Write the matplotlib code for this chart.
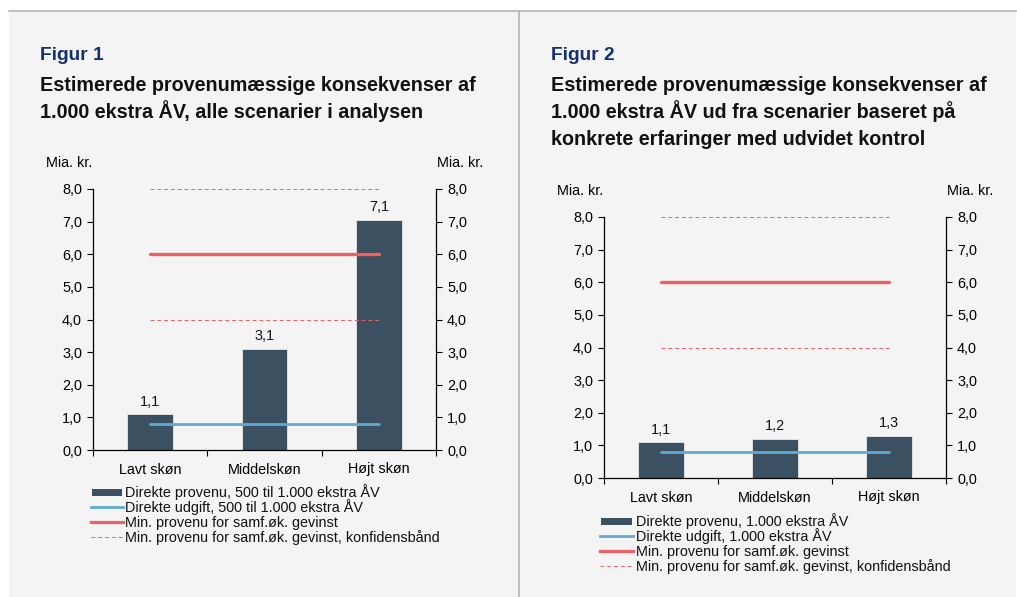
import matplotlib
matplotlib.use("Agg")
import matplotlib.pyplot as plt
from matplotlib.lines import Line2D
from matplotlib.patches import Rectangle
from matplotlib.ticker import FixedLocator, NullFormatter

plt.rcParams['font.family'] = ['Liberation Sans', 'DejaVu Sans']

categories = ["Lavt skøn", "Middelskøn", "Højt skøn"]
fig1_values = [1.1, 3.1, 7.05]
fig2_values = [1.1, 1.2, 1.3]
fig1_labels = ["1,1", "3,1", "7,1"]
fig2_labels = ["1,1", "1,2", "1,3"]
direct_cost = 0.8
min_revenue = 6.0
conf_low = 4.0
conf_high = 8.0
yticks = [0, 1, 2, 3, 4, 5, 6, 7, 8]
ytick_labels = ["0,0", "1,0", "2,0", "3,0", "4,0", "5,0", "6,0", "7,0", "8,0"]

fig1_title = ["Estimerede provenumæssige konsekvenser af",
              "1.000 ekstra ÅV, alle scenarier i analysen"]
fig2_title = ["Estimerede provenumæssige konsekvenser af",
              "1.000 ekstra ÅV ud fra scenarier baseret på",
              "konkrete erfaringer med udvidet kontrol"]
fig1_legend = ["Direkte provenu, 500 til 1.000 ekstra ÅV",
               "Direkte udgift, 500 til 1.000 ekstra ÅV",
               "Min. provenu for samf.øk. gevinst",
               "Min. provenu for samf.øk. gevinst, konfidensbånd"]
fig2_legend = ["Direkte provenu, 1.000 ekstra ÅV",
               "Direkte udgift, 1.000 ekstra ÅV",
               "Min. provenu for samf.øk. gevinst",
               "Min. provenu for samf.øk. gevinst, konfidensbånd"]

W, H = 1017, 597
BG = "#f4f4f4"
BAR = "#3b5060"
BLUE = "#62aad3"
RED = "#ef5f68"
NAVY = "#14306e"
FS = 10.4

fig = plt.figure(figsize=(W / 100, H / 100), dpi=100)
fig.patch.set_facecolor("white")


def fx(px):
    return px / W


def fy(py):
    return 1 - py / H


# panel background and borders
fig.patches.append(Rectangle((fx(9), 0), (W - 10) / W, (H - 11) / H, transform=fig.transFigure,
                             facecolor=BG, edgecolor="none", zorder=-10))
fig.add_artist(Line2D([fx(9), fx(1016)], [fy(11), fy(11)], transform=fig.transFigure,
                      color="#b5b5b5", lw=1.2))
fig.add_artist(Line2D([fx(519), fx(519)], [0, fy(11)], transform=fig.transFigure,
                      color="#b5b5b5", lw=1.2))


def px_axes(left, top, right, bottom):
    return fig.add_axes([fx(left), fy(bottom), (right - left) / W, (bottom - top) / H])


def draw_legend(labels, hx0, hx1, tx, y0, pitch=15):
    t = fig.transFigure
    for i, lab in enumerate(labels):
        yc = y0 + pitch * i
        if i == 0:
            fig.patches.append(Rectangle((fx(hx0), fy(yc + 3.5)), (hx1 - hx0) / W, 7 / H,
                                         transform=t, facecolor=BAR, edgecolor="none"))
        elif i == 1:
            fig.add_artist(Line2D([fx(hx0 - 1), fx(hx1 + 1)], [fy(yc), fy(yc)], transform=t,
                                  color=BLUE, lw=2.0))
        elif i == 2:
            fig.add_artist(Line2D([fx(hx0 - 1), fx(hx1 + 1)], [fy(yc), fy(yc)], transform=t,
                                  color=RED, lw=2.3))
        else:
            fig.add_artist(Line2D([fx(hx0 - 1), fx(hx1 + 1)], [fy(yc), fy(yc)], transform=t,
                                  color=RED, lw=0.7, ls=(0, (4, 3))))
        fig.text(fx(tx), fy(yc + 5), lab, fontsize=FS, ha="left", va="baseline", color="#111111")


def draw_panel(ax, values, labels):
    ax.set_facecolor("none")
    x = list(range(len(categories)))
    ax.bar(x, values, width=0.4, color=BAR, edgecolor="#e8e8e8", linewidth=0.6, zorder=2)
    for xi, v, lab in zip(x, values, labels):
        ax.annotate(lab, (xi, v), xytext=(0, 4), textcoords="offset points",
                    ha="center", va="bottom", fontsize=FS, color="#111111")
    xs = [x[0], x[-1]]
    ax.plot(xs, [direct_cost] * 2, color=BLUE, lw=2.0, zorder=3, solid_capstyle="round")
    ax.plot(xs, [min_revenue] * 2, color=RED, lw=2.4, zorder=3, solid_capstyle="round")
    ax.plot(xs, [conf_low] * 2, color=RED, lw=0.7, ls=(0, (4, 3)), zorder=3)
    ax.plot(xs, [conf_high] * 2, color=RED, lw=0.7, ls=(0, (4, 3)), zorder=3)

    ax.set_xlim(-0.5, len(categories) - 0.5)
    ax.set_ylim(0, 8)
    ax.set_yticks(yticks)
    ax.set_yticklabels(ytick_labels)
    ax.set_xticks(x)
    ax.set_xticklabels(categories)
    ax.xaxis.set_minor_locator(FixedLocator([i - 0.5 for i in range(len(categories) + 1)]))
    ax.xaxis.set_minor_formatter(NullFormatter())
    ax.tick_params(axis="x", which="major", length=0, pad=9, labelsize=FS)
    ax.tick_params(axis="x", which="minor", length=4, width=0.8, direction="out")
    ax.tick_params(axis="y", which="major", length=4, width=0.8, direction="out",
                   left=True, right=True, labelleft=True, labelright=True, labelsize=FS, pad=4)
    ax.spines["top"].set_visible(False)
    for s in ("left", "right", "bottom"):
        ax.spines[s].set_linewidth(0.9)
    ax.annotate("Mia. kr.", (0, 1), xycoords="axes fraction", xytext=(-1, 26),
                textcoords="offset pixels", ha="right", va="center", fontsize=FS)
    ax.annotate("Mia. kr.", (1, 1), xycoords="axes fraction", xytext=(1, 26),
                textcoords="offset pixels", ha="left", va="center", fontsize=FS)


ax1 = px_axes(93, 189, 436, 450)
draw_panel(ax1, fig1_values, fig1_labels)
draw_legend(fig1_legend, 92, 122, 125, 492)
ax2 = px_axes(604, 217, 946, 478)
draw_panel(ax2, fig2_values, fig2_labels)
draw_legend(fig2_legend, 601, 632, 636, 521)

# titles
for x0, fig_label, lines in ((40, "Figur 1", fig1_title), (551, "Figur 2", fig2_title)):
    fig.text(fx(x0), fy(60), fig_label, color=NAVY, fontsize=13.8, fontweight="bold",
             ha="left", va="baseline")
    for i, line in enumerate(lines):
        fig.text(fx(x0), fy(91 + 27 * i), line, fontsize=14.2, fontweight="bold",
                 ha="left", va="baseline", color="#111111")

fig.savefig("out.png", dpi=100, facecolor=fig.get_facecolor())
